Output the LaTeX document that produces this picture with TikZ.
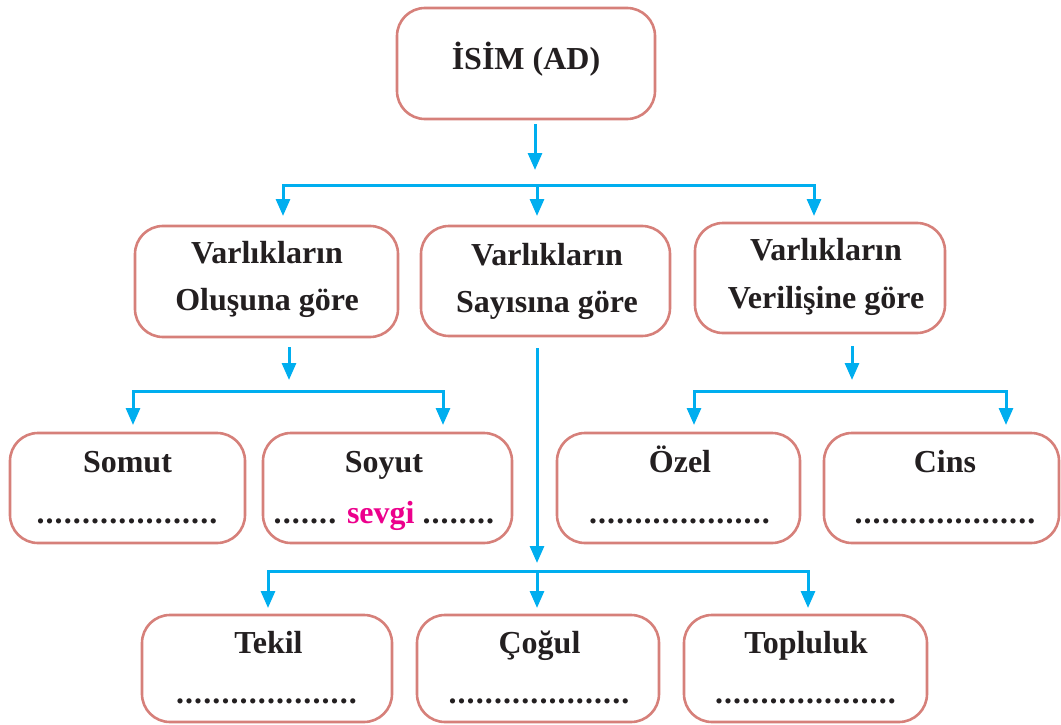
\documentclass[tikz,border=0pt]{standalone}
\usepackage{fontspec}
\setmainfont{Liberation Serif}
\usetikzlibrary{arrows.meta,calc}
\definecolor{boxc}{RGB}{214,128,122}
\definecolor{arrc}{RGB}{0,174,239}
\definecolor{txtc}{RGB}{35,31,32}
\definecolor{pinkc}{RGB}{236,0,140}
\newcommand\dotrow[1]{.\foreach \i in {2,...,#1}{\kern1.1pt.}}
\begin{document}
\begin{tikzpicture}[x=1pt,y=-1pt,
  box/.style={draw=boxc, line width=2.6pt, rounded corners=28pt, inner sep=0pt, outer sep=0pt, anchor=north west},
  lbl/.style={anchor=base, text=txtc, font=\fontsize{32}{36}\selectfont\bfseries, inner sep=0pt},
  bus/.style={draw=arrc, line width=3pt, line cap=rect},
  arr/.style={draw=arrc, line width=3pt, -{Triangle[length=17pt,width=14pt]}}]
\useasboundingbox (0,0) rectangle (1061,725);

% boxes
\node[box, minimum width=258pt, minimum height=111pt] (isim) at (397,8) {};
\node[box, minimum width=263pt, minimum height=111pt] (olus) at (135,226) {};
\node[box, minimum width=249pt, minimum height=110pt] (sayi) at (421,226) {};
\node[box, minimum width=250pt, minimum height=110pt] (veril) at (695,223) {};
\node[box, minimum width=235pt, minimum height=110pt] (somut) at (10,433) {};
\node[box, minimum width=249pt, minimum height=110pt] (soyut) at (263,433) {};
\node[box, minimum width=243pt, minimum height=110pt] (ozel) at (557,433) {};
\node[box, minimum width=235pt, minimum height=110pt] (cins) at (824,433) {};
\node[box, minimum width=250pt, minimum height=107pt] (tekil) at (142,615) {};
\node[box, minimum width=242pt, minimum height=107pt] (cogul) at (417,615) {};
\node[box, minimum width=243pt, minimum height=107pt] (toplu) at (684,615) {};

% texts
\node[lbl] (tisim) at (526,70) {İSİM (AD)};
\node[lbl] (tolus1) at (267,263) {Varlıkların};
\node[lbl] (tolus2) at (267,310) {Oluşuna göre};
\node[lbl] (tsayi1) at (547,265) {Varlıkların};
\node[lbl] (tsayi2) at (547,312) {Sayısına göre};
\node[lbl] (tveril1) at (826,260) {Varlıkların};
\node[lbl] (tveril2) at (826,308) {Verilişine göre};
\node[lbl] (tsomut) at (127.5,472) {Somut};
\node[lbl] (dsomut) at (127,523) {\dotrow{20}};
\node[lbl] (tsoyut) at (384,472) {Soyut};
\node[lbl] (dsoyut) at (384,523) {\dotrow{7} \textcolor{pinkc}{sevgi} \dotrow{8}};
\node[lbl] (tozel) at (680,472) {Özel};
\node[lbl] (dozel) at (679.5,523) {\dotrow{20}};
\node[lbl] (tcins) at (945,472) {Cins};
\node[lbl] (dcins) at (945,523) {\dotrow{20}};
\node[lbl] (ttekil) at (268.5,653) {Tekil};
\node[lbl] (dtekil) at (266.5,703) {\dotrow{20}};
\node[lbl] (tcogul) at (539.5,653) {Çoğul};
\node[lbl] (dcogul) at (539,703) {\dotrow{20}};
\node[lbl] (ttoplu) at (806,653) {Topluluk};
\node[lbl] (dtoplu) at (805.5,703) {\dotrow{20}};

% bus coordinates
\coordinate (j1) at (535,185);
\coordinate (b1a) at (283,185);
\coordinate (b1m) at (537,185);
\coordinate (b1b) at (814,185);
\coordinate (j2) at (289,391);
\coordinate (b2a) at (133,391);
\coordinate (b2b) at (443,391);
\coordinate (j3) at (537,571);
\coordinate (b3a) at (268,571);
\coordinate (b3m) at (537,571);
\coordinate (b3b) at (808,571);
\coordinate (j4) at (852,391);
\coordinate (b4a) at (694,391);
\coordinate (b4b) at (1006,391);

% level 1
\draw[arr, shorten >=15pt] ($(j1 |- isim.south)+(0,5)$) -- (j1);
\draw[bus] (b1a) -- (b1b);
\draw[arr, shorten >=10pt] (b1a) -- (b1a |- olus.north);
\draw[arr, shorten >=10pt] (b1m) -- (b1m |- sayi.north);
\draw[arr, shorten >=7pt] (b1b) -- (b1b |- veril.north);

% left subtree
\draw[arr, shorten >=11pt] ($(j2 |- olus.south)+(0,10)$) -- (j2);
\draw[bus] (b2a) -- (b2b);
\draw[arr, shorten >=8pt] (b2a) -- (b2a |- somut.north);
\draw[arr, shorten >=8pt] (b2b) -- (b2b |- soyut.north);

% middle subtree
\draw[arr, shorten >=8pt] ($(j3 |- sayi.south)+(0,12)$) -- (j3);
\draw[bus] (b3a) -- (b3b);
\draw[arr, shorten >=7pt] (b3a) -- (b3a |- tekil.north);
\draw[arr, shorten >=7pt] (b3m) -- (b3m |- cogul.north);
\draw[arr, shorten >=7pt] (b3b) -- (b3b |- toplu.north);

% right subtree
\draw[arr, shorten >=11pt] ($(j4 |- veril.south)+(0,13)$) -- (j4);
\draw[bus] (b4a) -- (b4b);
\draw[arr, shorten >=8pt] (b4a) -- (b4a |- ozel.north);
\draw[arr, shorten >=8pt] (b4b) -- (b4b |- cins.north);
\end{tikzpicture}
\end{document}
